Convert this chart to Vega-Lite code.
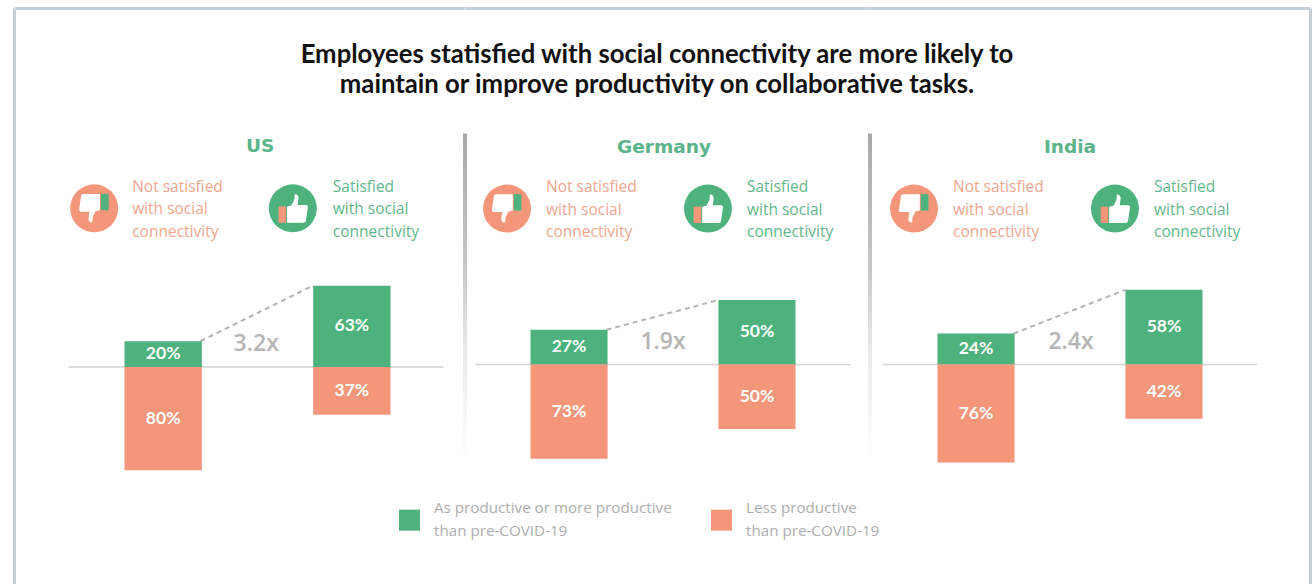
{
"$schema":"https://vega.github.io/schema/vega-lite/v6.json",
"padding":{"left":12.5,"top":6.5,"right":0,"bottom":0},
"bounds":"flush",
"spacing":0,
"background":"#ffffff",
"title":{"text":["Employees statisfied with social connectivity are more likely to","maintain or improve productivity on collaborative tasks."],"font":"Lato","fontSize":25.7,"fontWeight":"bold","color":"#111111","lineHeight":30,"anchor":"middle","offset":-92,"dx":-5.5},
"config":{"view":{"stroke":null},"axis":{"disable":true},"scale":{"pointPadding":0},"text":{"font":"Open Sans"},
"legend":{"orient":"none","legendX":384.5,"legendY":501,"direction":"horizontal","columns":2,"title":null,"symbolType":"square","symbolSize":441,"symbolStrokeWidth":0,"symbolOpacity":1,"labelFont":"Open Sans","labelFontSize":15.2,"labelColor":"#aeaeae","labelOffset":14,"labelLimit":400,"columnPadding":39}},
"datasets":{
"bars":[
{"country":"US","group":"Not satisfied","measure":"As productive or more productive than pre-COVID-19","value":20,"label":"20%"},
{"country":"US","group":"Not satisfied","measure":"Less productive than pre-COVID-19","value":-80,"label":"80%"},
{"country":"US","group":"Satisfied","measure":"As productive or more productive than pre-COVID-19","value":63,"label":"63%"},
{"country":"US","group":"Satisfied","measure":"Less productive than pre-COVID-19","value":-37,"label":"37%"},
{"country":"Germany","group":"Not satisfied","measure":"As productive or more productive than pre-COVID-19","value":27,"label":"27%"},
{"country":"Germany","group":"Not satisfied","measure":"Less productive than pre-COVID-19","value":-73,"label":"73%"},
{"country":"Germany","group":"Satisfied","measure":"As productive or more productive than pre-COVID-19","value":50,"label":"50%"},
{"country":"Germany","group":"Satisfied","measure":"Less productive than pre-COVID-19","value":-50,"label":"50%"},
{"country":"India","group":"Not satisfied","measure":"As productive or more productive than pre-COVID-19","value":24,"label":"24%"},
{"country":"India","group":"Not satisfied","measure":"Less productive than pre-COVID-19","value":-76,"label":"76%"},
{"country":"India","group":"Satisfied","measure":"As productive or more productive than pre-COVID-19","value":58,"label":"58%"},
{"country":"India","group":"Satisfied","measure":"Less productive than pre-COVID-19","value":-42,"label":"42%"}
],
"groups":[
{"group":"Not satisfied","caption":"Not satisfied\nwith social\nconnectivity"},
{"group":"Satisfied","caption":"Satisfied\nwith social\nconnectivity"}
],
"panels":[
{"country":"US","multiple":"3.2x"},
{"country":"Germany","multiple":"1.9x"},
{"country":"India","multiple":"2.4x"}
]
},
"hconcat":[
{"width":450,"height":576,"resolve":{"scale":{"x":"independent"}},"layer":[
{"data":{"values":[{}]},"mark":{"type":"rule","color":"#c6cfd8","strokeWidth":3},"encoding":{"x":{"datum":"start","type":"nominal","axis":null,"scale":{"type":"point","domain":["start","end"],"range":[0,450]}},"x2":{"datum":"end"},"y":{"datum":277.9,"type":"quantitative"}}},
{"data":{"values":[{}]},"mark":{"type":"rule","color":"#c6cfd8","strokeWidth":3},"encoding":{"x":{"datum":"start","type":"nominal","axis":null,"scale":{"type":"point","domain":["start","end"],"range":[0,450]}},"y":{"datum":277.9,"type":"quantitative"},"y2":{"datum":-168.6}}},
{"data":{"values":[{}]},"mark":{"type":"rule","color":"#d2d2d2","strokeWidth":1.5},"encoding":{"x":{"datum":"start","type":"nominal","axis":null,"scale":{"type":"point","domain":["start","end"],"range":[54,429]}},"x2":{"datum":"end"},"y":{"datum":0,"type":"quantitative"}}},
{"data":{"name":"bars"},"transform":[{"filter":"datum.country==='US' && datum.value>0"}],"mark":{"type":"line","color":"#b4b4b4","strokeWidth":2,"strokeDash":[5,4]},"encoding":{"x":{"field":"group","type":"nominal","axis":null,"scale":{"type":"point","domain":["Not satisfied","Satisfied"],"range":[186,298]}},"y":{"field":"value","type":"quantitative"}}},
{"data":{"name":"bars"},"transform":[{"filter":"datum.country==='US'"}],"mark":{"type":"bar"},"encoding":{"x":{"field":"group","type":"nominal","axis":null,"scale":{"type":"band","domain":["Not satisfied","Satisfied"],"range":[110,376],"paddingInner":0.59,"paddingOuter":0}},"y":{"field":"value","type":"quantitative","stack":null,"axis":null,"scale":{"domain":[-168.6,277.9],"nice":false,"zero":false}},"color":{"field":"measure","type":"nominal","scale":{"domain":["As productive or more productive than pre-COVID-19","Less productive than pre-COVID-19"],"range":["#4db27d","#f4967a"]},"legend":{"labelExpr":"split(replace(datum.label,' than pre','|than pre'),'|')","encoding":{"labels":{"lineHeight":{"value":23},"dy":{"value":-12}}}}}}},
{"data":{"name":"bars"},"transform":[{"filter":"datum.country==='US'"}],"mark":{"type":"text","font":"Lato","fontWeight":"bold","fontSize":17.5,"color":"#ffffff","baseline":"middle","dy":{"expr":"datum.value*0.645"}},"encoding":{"x":{"field":"group","type":"nominal","axis":null,"scale":{"type":"band","domain":["Not satisfied","Satisfied"],"range":[110,376],"paddingInner":0.59,"paddingOuter":0}},"y":{"field":"value","type":"quantitative"},"text":{"field":"label"}}},
{"data":{"name":"panels"},"transform":[{"filter":"datum.country==='US'"}],"mark":{"type":"text","fontSize":23,"fontWeight":600,"color":"#b5b5b5","baseline":"middle","dx":93},"encoding":{"x":{"datum":"Not satisfied","type":"nominal","axis":null,"scale":{"type":"band","domain":["Not satisfied","Satisfied"],"range":[110,376],"paddingInner":0.59,"paddingOuter":0}},"y":{"datum":17.5,"type":"quantitative"},"text":{"field":"multiple"}}},
{"data":{"name":"panels"},"transform":[{"filter":"datum.country==='US'"}],"mark":{"type":"text","font":"DejaVu Sans","fontSize":18.5,"fontWeight":"bold","color":"#5bb38a","baseline":"middle","dx":97},"encoding":{"x":{"datum":"Not satisfied","type":"nominal","axis":null,"scale":{"type":"band","domain":["Not satisfied","Satisfied"],"range":[110,376],"paddingInner":0.59,"paddingOuter":0}},"y":{"datum":171,"type":"quantitative"},"text":{"field":"country"}}},
{"data":{"name":"groups"},"mark":{"type":"text","fontSize":15.5,"align":"left","baseline":"middle","lineBreak":"\n","lineHeight":22.5,"dy":-21.5,"dx":{"expr":"datum.group==='Satisfied'?-19:-31"}},"encoding":{"x":{"field":"group","type":"nominal","axis":null,"scale":{"type":"band","domain":["Not satisfied","Satisfied"],"range":[110,376],"paddingInner":0.59,"paddingOuter":0}},"y":{"datum":123,"type":"quantitative"},"text":{"field":"caption"},"color":{"condition":{"test":"datum.group==='Satisfied'","value":"#62b78e"},"value":"#efa78f"}}},
{"data":{"name":"groups"},"mark":{"type":"point","shape":"circle","filled":true,"opacity":1,"size":2304,"strokeWidth":0,"xOffset":{"expr":"datum.group==='Satisfied'?-59:-69"}},"encoding":{"x":{"field":"group","type":"nominal","axis":null,"scale":{"type":"band","domain":["Not satisfied","Satisfied"],"range":[110,376],"paddingInner":0.59,"paddingOuter":0}},"y":{"datum":123,"type":"quantitative"},"color":{"condition":{"test":"datum.group==='Satisfied'","value":"#4db27d"},"value":"#f4967a"}}},
{"data":{"name":"groups"},"mark":{"type":"point","shape":{"expr":"datum.group==='Satisfied'?'M-0.12,-0.04 L-0.03,-0.06 L0.03,-0.18 L0.04,-0.29 Q0.10,-0.30 0.12,-0.22 L0.10,-0.07 L0.29,-0.07 Q0.33,-0.05 0.31,0 L0.27,0.27 Q0.26,0.30 0.22,0.30 L-0.12,0.30 Z':'M0.12,0.04 L0.03,0.06 L-0.03,0.18 L-0.04,0.29 Q-0.10,0.30 -0.12,0.22 L-0.10,0.07 L-0.29,0.07 Q-0.33,0.05 -0.31,0 L-0.27,-0.27 Q-0.26,-0.30 -0.22,-0.30 L0.12,-0.30 Z'"},"filled":true,"opacity":1,"size":9216,"strokeWidth":0,"color":"#ffffff","xOffset":{"expr":"datum.group==='Satisfied'?-59:-69"}},"encoding":{"x":{"field":"group","type":"nominal","axis":null,"scale":{"type":"band","domain":["Not satisfied","Satisfied"],"range":[110,376],"paddingInner":0.59,"paddingOuter":0}},"y":{"datum":123,"type":"quantitative"}}},
{"data":{"name":"groups"},"mark":{"type":"point","shape":{"expr":"datum.group==='Satisfied'?'M-0.30,-0.04 L-0.14,-0.04 L-0.14,0.30 L-0.30,0.30 Z':'M0.30,0.04 L0.14,0.04 L0.14,-0.30 L0.30,-0.30 Z'"},"filled":true,"opacity":1,"size":9216,"strokeWidth":0,"xOffset":{"expr":"datum.group==='Satisfied'?-59:-69"}},"encoding":{"x":{"field":"group","type":"nominal","axis":null,"scale":{"type":"band","domain":["Not satisfied","Satisfied"],"range":[110,376],"paddingInner":0.59,"paddingOuter":0}},"y":{"datum":123,"type":"quantitative"},"color":{"condition":{"test":"datum.group==='Satisfied'","value":"#f4967a"},"value":"#4db27d"}}}
]},
{"width":405,"height":576,"resolve":{"scale":{"x":"independent"}},"layer":[
{"data":{"values":[{}]},"mark":{"type":"rule","color":"#c6cfd8","strokeWidth":3},"encoding":{"x":{"datum":"start","type":"nominal","axis":null,"scale":{"type":"point","domain":["start","end"],"range":[0,405]}},"x2":{"datum":"end"},"y":{"datum":276,"type":"quantitative"}}},
{"data":{"values":[{}]},"mark":{"type":"rect","fill":{"gradient":"linear","x1":0,"y1":0,"x2":0,"y2":1,"stops":[{"offset":0,"color":"#a9a9ab"},{"offset":0.4,"color":"#c6c6c8"},{"offset":0.65,"color":"#e8e8e8"},{"offset":1,"color":"#ffffff"}]}},"encoding":{"x":{"datum":"start","type":"nominal","axis":null,"scale":{"type":"point","domain":["start","end"],"range":[-1.5,2.5]}},"x2":{"datum":"end"},"y":{"datum":179.1,"type":"quantitative"},"y2":{"datum":-74.4}}},
{"data":{"values":[{}]},"mark":{"type":"rule","color":"#d2d2d2","strokeWidth":1.5},"encoding":{"x":{"datum":"start","type":"nominal","axis":null,"scale":{"type":"point","domain":["start","end"],"range":[11,386]}},"x2":{"datum":"end"},"y":{"datum":0,"type":"quantitative"}}},
{"data":{"name":"bars"},"transform":[{"filter":"datum.country==='Germany' && datum.value>0"}],"mark":{"type":"line","color":"#b4b4b4","strokeWidth":2,"strokeDash":[5,4]},"encoding":{"x":{"field":"group","type":"nominal","axis":null,"scale":{"type":"point","domain":["Not satisfied","Satisfied"],"range":[142,254]}},"y":{"field":"value","type":"quantitative"}}},
{"data":{"name":"bars"},"transform":[{"filter":"datum.country==='Germany'"}],"mark":{"type":"bar"},"encoding":{"x":{"field":"group","type":"nominal","axis":null,"scale":{"type":"band","domain":["Not satisfied","Satisfied"],"range":[66,331],"paddingInner":0.59,"paddingOuter":0}},"y":{"field":"value","type":"quantitative","stack":null,"axis":null,"scale":{"domain":[-170.5,276],"nice":false,"zero":false}},"color":{"field":"measure","type":"nominal","scale":{"domain":["As productive or more productive than pre-COVID-19","Less productive than pre-COVID-19"],"range":["#4db27d","#f4967a"]},"legend":{"labelExpr":"split(replace(datum.label,' than pre','|than pre'),'|')","encoding":{"labels":{"lineHeight":{"value":23},"dy":{"value":-12}}}}}}},
{"data":{"name":"bars"},"transform":[{"filter":"datum.country==='Germany'"}],"mark":{"type":"text","font":"Lato","fontWeight":"bold","fontSize":17.5,"color":"#ffffff","baseline":"middle","dy":{"expr":"datum.value*0.645"}},"encoding":{"x":{"field":"group","type":"nominal","axis":null,"scale":{"type":"band","domain":["Not satisfied","Satisfied"],"range":[66,331],"paddingInner":0.59,"paddingOuter":0}},"y":{"field":"value","type":"quantitative"},"text":{"field":"label"}}},
{"data":{"name":"panels"},"transform":[{"filter":"datum.country==='Germany'"}],"mark":{"type":"text","fontSize":23,"fontWeight":600,"color":"#b5b5b5","baseline":"middle","dx":94},"encoding":{"x":{"datum":"Not satisfied","type":"nominal","axis":null,"scale":{"type":"band","domain":["Not satisfied","Satisfied"],"range":[66,331],"paddingInner":0.59,"paddingOuter":0}},"y":{"datum":17.2,"type":"quantitative"},"text":{"field":"multiple"}}},
{"data":{"name":"panels"},"transform":[{"filter":"datum.country==='Germany'"}],"mark":{"type":"text","font":"DejaVu Sans","fontSize":18.5,"fontWeight":"bold","color":"#5bb38a","baseline":"middle","dx":95},"encoding":{"x":{"datum":"Not satisfied","type":"nominal","axis":null,"scale":{"type":"band","domain":["Not satisfied","Satisfied"],"range":[66,331],"paddingInner":0.59,"paddingOuter":0}},"y":{"datum":169,"type":"quantitative"},"text":{"field":"country"}}},
{"data":{"name":"groups"},"mark":{"type":"text","fontSize":15.5,"align":"left","baseline":"middle","lineBreak":"\n","lineHeight":22.5,"dy":-21.5,"dx":{"expr":"datum.group==='Satisfied'?-10:-23"}},"encoding":{"x":{"field":"group","type":"nominal","axis":null,"scale":{"type":"band","domain":["Not satisfied","Satisfied"],"range":[66,331],"paddingInner":0.59,"paddingOuter":0}},"y":{"datum":120.9,"type":"quantitative"},"text":{"field":"caption"},"color":{"condition":{"test":"datum.group==='Satisfied'","value":"#62b78e"},"value":"#efa78f"}}},
{"data":{"name":"groups"},"mark":{"type":"point","shape":"circle","filled":true,"opacity":1,"size":2304,"strokeWidth":0,"xOffset":{"expr":"datum.group==='Satisfied'?-49:-62"}},"encoding":{"x":{"field":"group","type":"nominal","axis":null,"scale":{"type":"band","domain":["Not satisfied","Satisfied"],"range":[66,331],"paddingInner":0.59,"paddingOuter":0}},"y":{"datum":120.9,"type":"quantitative"},"color":{"condition":{"test":"datum.group==='Satisfied'","value":"#4db27d"},"value":"#f4967a"}}},
{"data":{"name":"groups"},"mark":{"type":"point","shape":{"expr":"datum.group==='Satisfied'?'M-0.12,-0.04 L-0.03,-0.06 L0.03,-0.18 L0.04,-0.29 Q0.10,-0.30 0.12,-0.22 L0.10,-0.07 L0.29,-0.07 Q0.33,-0.05 0.31,0 L0.27,0.27 Q0.26,0.30 0.22,0.30 L-0.12,0.30 Z':'M0.12,0.04 L0.03,0.06 L-0.03,0.18 L-0.04,0.29 Q-0.10,0.30 -0.12,0.22 L-0.10,0.07 L-0.29,0.07 Q-0.33,0.05 -0.31,0 L-0.27,-0.27 Q-0.26,-0.30 -0.22,-0.30 L0.12,-0.30 Z'"},"filled":true,"opacity":1,"size":9216,"strokeWidth":0,"color":"#ffffff","xOffset":{"expr":"datum.group==='Satisfied'?-49:-62"}},"encoding":{"x":{"field":"group","type":"nominal","axis":null,"scale":{"type":"band","domain":["Not satisfied","Satisfied"],"range":[66,331],"paddingInner":0.59,"paddingOuter":0}},"y":{"datum":120.9,"type":"quantitative"}}},
{"data":{"name":"groups"},"mark":{"type":"point","shape":{"expr":"datum.group==='Satisfied'?'M-0.30,-0.04 L-0.14,-0.04 L-0.14,0.30 L-0.30,0.30 Z':'M0.30,0.04 L0.14,0.04 L0.14,-0.30 L0.30,-0.30 Z'"},"filled":true,"opacity":1,"size":9216,"strokeWidth":0,"xOffset":{"expr":"datum.group==='Satisfied'?-49:-62"}},"encoding":{"x":{"field":"group","type":"nominal","axis":null,"scale":{"type":"band","domain":["Not satisfied","Satisfied"],"range":[66,331],"paddingInner":0.59,"paddingOuter":0}},"y":{"datum":120.9,"type":"quantitative"},"color":{"condition":{"test":"datum.group==='Satisfied'","value":"#f4967a"},"value":"#4db27d"}}}
]},
{"width":441,"height":576,"resolve":{"scale":{"x":"independent"}},"layer":[
{"data":{"values":[{}]},"mark":{"type":"rule","color":"#c6cfd8","strokeWidth":3},"encoding":{"x":{"datum":"start","type":"nominal","axis":null,"scale":{"type":"point","domain":["start","end"],"range":[0,441]}},"x2":{"datum":"end"},"y":{"datum":276,"type":"quantitative"}}},
{"data":{"values":[{}]},"mark":{"type":"rule","color":"#c6cfd8","strokeWidth":3},"encoding":{"x":{"datum":"end","type":"nominal","axis":null,"scale":{"type":"point","domain":["start","end"],"range":[0,441]}},"y":{"datum":276,"type":"quantitative"},"y2":{"datum":-170.5}}},
{"data":{"values":[{}]},"mark":{"type":"rect","fill":{"gradient":"linear","x1":0,"y1":0,"x2":0,"y2":1,"stops":[{"offset":0,"color":"#a9a9ab"},{"offset":0.4,"color":"#c6c6c8"},{"offset":0.65,"color":"#e8e8e8"},{"offset":1,"color":"#ffffff"}]}},"encoding":{"x":{"datum":"start","type":"nominal","axis":null,"scale":{"type":"point","domain":["start","end"],"range":[-1.5,2.5]}},"x2":{"datum":"end"},"y":{"datum":179.1,"type":"quantitative"},"y2":{"datum":-74.4}}},
{"data":{"values":[{}]},"mark":{"type":"rule","color":"#d2d2d2","strokeWidth":1.5},"encoding":{"x":{"datum":"start","type":"nominal","axis":null,"scale":{"type":"point","domain":["start","end"],"range":[13,388]}},"x2":{"datum":"end"},"y":{"datum":0,"type":"quantitative"}}},
{"data":{"name":"bars"},"transform":[{"filter":"datum.country==='India' && datum.value>0"}],"mark":{"type":"line","color":"#b4b4b4","strokeWidth":2,"strokeDash":[5,4]},"encoding":{"x":{"field":"group","type":"nominal","axis":null,"scale":{"type":"point","domain":["Not satisfied","Satisfied"],"range":[144,256]}},"y":{"field":"value","type":"quantitative"}}},
{"data":{"name":"bars"},"transform":[{"filter":"datum.country==='India'"}],"mark":{"type":"bar"},"encoding":{"x":{"field":"group","type":"nominal","axis":null,"scale":{"type":"band","domain":["Not satisfied","Satisfied"],"range":[68,333],"paddingInner":0.59,"paddingOuter":0}},"y":{"field":"value","type":"quantitative","stack":null,"axis":null,"scale":{"domain":[-170.5,276],"nice":false,"zero":false}},"color":{"field":"measure","type":"nominal","scale":{"domain":["As productive or more productive than pre-COVID-19","Less productive than pre-COVID-19"],"range":["#4db27d","#f4967a"]},"legend":{"labelExpr":"split(replace(datum.label,' than pre','|than pre'),'|')","encoding":{"labels":{"lineHeight":{"value":23},"dy":{"value":-12}}}}}}},
{"data":{"name":"bars"},"transform":[{"filter":"datum.country==='India'"}],"mark":{"type":"text","font":"Lato","fontWeight":"bold","fontSize":17.5,"color":"#ffffff","baseline":"middle","dy":{"expr":"datum.value*0.645"}},"encoding":{"x":{"field":"group","type":"nominal","axis":null,"scale":{"type":"band","domain":["Not satisfied","Satisfied"],"range":[68,333],"paddingInner":0.59,"paddingOuter":0}},"y":{"field":"value","type":"quantitative"},"text":{"field":"label"}}},
{"data":{"name":"panels"},"transform":[{"filter":"datum.country==='India'"}],"mark":{"type":"text","fontSize":23,"fontWeight":600,"color":"#b5b5b5","baseline":"middle","dx":95},"encoding":{"x":{"datum":"Not satisfied","type":"nominal","axis":null,"scale":{"type":"band","domain":["Not satisfied","Satisfied"],"range":[68,333],"paddingInner":0.59,"paddingOuter":0}},"y":{"datum":17.2,"type":"quantitative"},"text":{"field":"multiple"}}},
{"data":{"name":"panels"},"transform":[{"filter":"datum.country==='India'"}],"mark":{"type":"text","font":"DejaVu Sans","fontSize":18.5,"fontWeight":"bold","color":"#5bb38a","baseline":"middle","dx":94},"encoding":{"x":{"datum":"Not satisfied","type":"nominal","axis":null,"scale":{"type":"band","domain":["Not satisfied","Satisfied"],"range":[68,333],"paddingInner":0.59,"paddingOuter":0}},"y":{"datum":169,"type":"quantitative"},"text":{"field":"country"}}},
{"data":{"name":"groups"},"mark":{"type":"text","fontSize":15.5,"align":"left","baseline":"middle","lineBreak":"\n","lineHeight":22.5,"dy":-21.5,"dx":{"expr":"datum.group==='Satisfied'?-10:-23"}},"encoding":{"x":{"field":"group","type":"nominal","axis":null,"scale":{"type":"band","domain":["Not satisfied","Satisfied"],"range":[68,333],"paddingInner":0.59,"paddingOuter":0}},"y":{"datum":120.9,"type":"quantitative"},"text":{"field":"caption"},"color":{"condition":{"test":"datum.group==='Satisfied'","value":"#62b78e"},"value":"#efa78f"}}},
{"data":{"name":"groups"},"mark":{"type":"point","shape":"circle","filled":true,"opacity":1,"size":2304,"strokeWidth":0,"xOffset":{"expr":"datum.group==='Satisfied'?-49:-62"}},"encoding":{"x":{"field":"group","type":"nominal","axis":null,"scale":{"type":"band","domain":["Not satisfied","Satisfied"],"range":[68,333],"paddingInner":0.59,"paddingOuter":0}},"y":{"datum":120.9,"type":"quantitative"},"color":{"condition":{"test":"datum.group==='Satisfied'","value":"#4db27d"},"value":"#f4967a"}}},
{"data":{"name":"groups"},"mark":{"type":"point","shape":{"expr":"datum.group==='Satisfied'?'M-0.12,-0.04 L-0.03,-0.06 L0.03,-0.18 L0.04,-0.29 Q0.10,-0.30 0.12,-0.22 L0.10,-0.07 L0.29,-0.07 Q0.33,-0.05 0.31,0 L0.27,0.27 Q0.26,0.30 0.22,0.30 L-0.12,0.30 Z':'M0.12,0.04 L0.03,0.06 L-0.03,0.18 L-0.04,0.29 Q-0.10,0.30 -0.12,0.22 L-0.10,0.07 L-0.29,0.07 Q-0.33,0.05 -0.31,0 L-0.27,-0.27 Q-0.26,-0.30 -0.22,-0.30 L0.12,-0.30 Z'"},"filled":true,"opacity":1,"size":9216,"strokeWidth":0,"color":"#ffffff","xOffset":{"expr":"datum.group==='Satisfied'?-49:-62"}},"encoding":{"x":{"field":"group","type":"nominal","axis":null,"scale":{"type":"band","domain":["Not satisfied","Satisfied"],"range":[68,333],"paddingInner":0.59,"paddingOuter":0}},"y":{"datum":120.9,"type":"quantitative"}}},
{"data":{"name":"groups"},"mark":{"type":"point","shape":{"expr":"datum.group==='Satisfied'?'M-0.30,-0.04 L-0.14,-0.04 L-0.14,0.30 L-0.30,0.30 Z':'M0.30,0.04 L0.14,0.04 L0.14,-0.30 L0.30,-0.30 Z'"},"filled":true,"opacity":1,"size":9216,"strokeWidth":0,"xOffset":{"expr":"datum.group==='Satisfied'?-49:-62"}},"encoding":{"x":{"field":"group","type":"nominal","axis":null,"scale":{"type":"band","domain":["Not satisfied","Satisfied"],"range":[68,333],"paddingInner":0.59,"paddingOuter":0}},"y":{"datum":120.9,"type":"quantitative"},"color":{"condition":{"test":"datum.group==='Satisfied'","value":"#f4967a"},"value":"#4db27d"}}}
]}
]
}
